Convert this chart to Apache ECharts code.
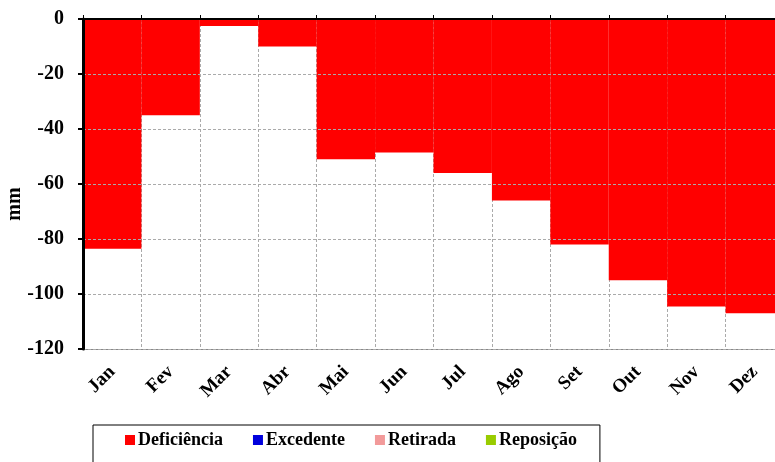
<!DOCTYPE html>
<html>
<head>
<meta charset="utf-8">
<script src="https://cdn.jsdelivr.net/npm/echarts@6/dist/echarts.min.js"></script>
<style>html,body{margin:0;padding:0;background:#fff}#c{width:775px;height:462px}</style>
</head>
<body>
<div id="c"></div>
<script>
const categories = ['Jan','Fev','Mar','Abr','Mai','Jun','Jul','Ago','Set','Out','Nov','Dez'];
const deficiencia = [-83.5, -35, -2.5, -10, -51, -48.5, -56, -66, -82, -95, -104.5, -107];
const excedente = [];
const retirada = [];
const reposicao = [];
const yTicks = [0, -20, -40, -60, -80, -100, -120];

const font = '"Liberation Serif", "Times New Roman", serif';
const chart = echarts.init(document.getElementById('c'), null, {renderer: 'canvas'});
chart.setOption({
  animation: false,
  backgroundColor: '#ffffff',
  grid: {left: 83, top: 19, width: 701, height: 330, outerBoundsMode: 'none', containLabel: false},
  legend: {
    left: 93, top: 425,
    padding: [6, 23, 40, 32],
    borderColor: '#000', borderWidth: 1,
    itemWidth: 10, itemHeight: 10, itemGap: 30,
    icon: 'rect',
    textStyle: {fontFamily: font, fontWeight: 'bold', fontSize: 18, color: '#000', padding: [0, 0, 0, -2]},
    data: ['Deficiência', 'Excedente', 'Retirada', 'Reposição']
  },
  xAxis: [{
    type: 'category', data: categories, position: 'bottom',
    axisLine: {show: true, onZero: false, lineStyle: {color: '#888', width: 1}},
    axisTick: {show: false},
    axisLabel: {rotate: 45, margin: 20, fontFamily: font, fontWeight: 'bold', fontSize: 19, color: '#000', interval: 0},
    splitLine: {show: true, interval: 0, lineStyle: {color: '#aaa', type: [3, 2], width: 1}}
  }, {
    type: 'category', data: categories, position: 'top', z: 5,
    axisLine: {show: true, onZero: false, lineStyle: {color: '#000', width: 2}},
    axisTick: {show: true, length: 4, inside: false, lineStyle: {color: '#000', width: 1}},
    axisLabel: {show: false},
    splitLine: {show: false}
  }],
  yAxis: {
    type: 'value', min: -120, max: 0, interval: 20, z: 5,
    name: 'mm', nameLocation: 'middle', nameRotate: 90, nameGap: 58, nameMoveOverlap: false,
    nameTextStyle: {fontFamily: font, fontWeight: 'bold', fontSize: 20, color: '#000', padding: [0, 40, 0, 0]},
    axisLine: {show: true, onZero: false, lineStyle: {color: '#000', width: 3}},
    axisTick: {show: true, length: 5, lineStyle: {color: '#000', width: 2}},
    axisLabel: {fontFamily: font, fontWeight: 'bold', fontSize: 20, color: '#000', margin: 19,
      formatter: v => yTicks.includes(v) ? String(v) : ''},
    splitLine: {show: true, lineStyle: {color: '#aaa', type: [3, 2], width: 1}}
  },
  series: [
    {name: 'Deficiência', type: 'bar', data: deficiencia, barWidth: '100%', barGap: '-100%', itemStyle: {color: '#ff0000'}},
    {name: 'Excedente', type: 'bar', data: excedente, barWidth: '100%', barGap: '-100%', itemStyle: {color: '#0000dd'}},
    {name: 'Retirada', type: 'bar', data: retirada, barWidth: '100%', barGap: '-100%', itemStyle: {color: '#f29a9a'}},
    {name: 'Reposição', type: 'bar', data: reposicao, barWidth: '100%', barGap: '-100%', itemStyle: {color: '#99cc00'}}
  ]
});
</script>
</body>
</html>
